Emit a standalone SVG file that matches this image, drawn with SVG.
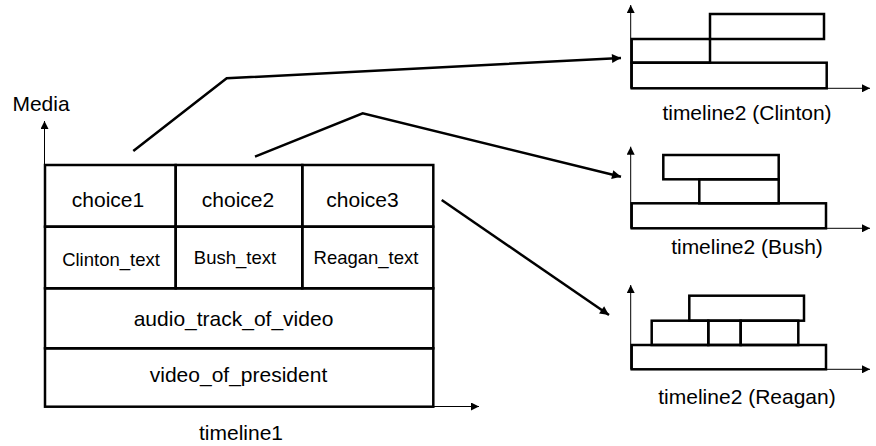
<svg xmlns="http://www.w3.org/2000/svg" width="876" height="446" viewBox="0 0 876 446">
<style>
  text { font-family: "Liberation Sans", Arial, sans-serif; fill: #000; }
  .lbl { font-size: 21px; text-anchor: middle; }
  .sub { font-size: 18.5px; text-anchor: middle; }
  .box { fill: none; stroke: #000; stroke-width: 2.5; }
  .axis { fill: none; stroke: #000; stroke-width: 1; }
  .conn { fill: none; stroke: #000; stroke-width: 2.5; }
</style>
<defs>
  <marker id="ah" viewBox="0 0 10 10" refX="10" refY="5" markerWidth="12" markerHeight="8" markerUnits="userSpaceOnUse" orient="auto">
    <path d="M0,0 L10,5 L0,10 Z" fill="#000"/>
  </marker>
  <marker id="ah2" viewBox="0 0 10 10" refX="10" refY="5" markerWidth="14" markerHeight="9" markerUnits="userSpaceOnUse" orient="auto">
    <path d="M0,0 L10,5 L0,10 Z" fill="#000"/>
  </marker>
</defs>

<g id="timeline1">
  <line class="axis" x1="44.5" y1="406.5" x2="44.5" y2="121" marker-end="url(#ah)"/>
  <line class="axis" x1="44.5" y1="406.5" x2="479" y2="406.5" marker-end="url(#ah)"/>
  <text x="41" y="111" class="lbl" style="text-anchor:middle">Media</text>
  <text x="241" y="440" class="lbl">timeline1</text>
</g>

<g id="choice1">
  <rect class="box" x="45" y="165" width="130.7" height="61.7"/>
  <text x="108" y="207" class="lbl">choice1</text>
</g>
<g id="choice2">
  <rect class="box" x="175.7" y="165" width="126.6" height="61.7"/>
  <text x="238" y="207" class="lbl">choice2</text>
</g>
<g id="choice3">
  <rect class="box" x="302.3" y="165" width="131" height="61.7"/>
  <text x="362.5" y="207" class="lbl">choice3</text>
</g>
<g id="clinton_text">
  <rect class="box" x="45" y="226.7" width="130.7" height="61.6"/>
  <text x="111" y="266" class="sub">Clinton_text</text>
</g>
<g id="bush_text">
  <rect class="box" x="175.7" y="226.7" width="126.6" height="61.6"/>
  <text x="235" y="264" class="sub">Bush_text</text>
</g>
<g id="reagan_text">
  <rect class="box" x="302.3" y="226.7" width="131" height="61.6"/>
  <text x="366" y="264" class="sub">Reagan_text</text>
</g>
<g id="audio_track_of_video">
  <rect class="box" x="45" y="288.3" width="388.3" height="60"/>
  <text x="233.5" y="326" class="lbl">audio_track_of_video</text>
</g>
<g id="video_of_president">
  <rect class="box" x="45" y="348.3" width="388.3" height="58.4"/>
  <text x="238.5" y="382" class="lbl">video_of_president</text>
</g>

<g id="timeline2_clinton">
  <line class="axis" x1="630.7" y1="88.3" x2="630.7" y2="5" marker-end="url(#ah)"/>
  <line class="axis" x1="630.7" y1="88.3" x2="870" y2="88.3" marker-end="url(#ah)"/>
  <rect class="box" x="631.7" y="62.7" width="195" height="25.6"/>
  <rect class="box" x="631.7" y="39" width="78.3" height="23.7"/>
  <rect class="box" x="710" y="14" width="114" height="25"/>
  <text x="747" y="120" class="lbl">timeline2 (Clinton)</text>
</g>

<g id="timeline2_bush">
  <line class="axis" x1="630.7" y1="228.3" x2="630.7" y2="146.7" marker-end="url(#ah)"/>
  <line class="axis" x1="630.7" y1="228.3" x2="870" y2="228.3" marker-end="url(#ah)"/>
  <rect class="box" x="631.7" y="203.3" width="194.3" height="25"/>
  <rect class="box" x="699.3" y="179.3" width="79.4" height="24"/>
  <rect class="box" x="663.3" y="155" width="115.4" height="24.3"/>
  <text x="747" y="254" class="lbl">timeline2 (Bush)</text>
</g>

<g id="timeline2_reagan">
  <line class="axis" x1="630.7" y1="369.3" x2="630.7" y2="285" marker-end="url(#ah)"/>
  <line class="axis" x1="630.7" y1="369.3" x2="870" y2="369.3" marker-end="url(#ah)"/>
  <rect class="box" x="631.7" y="345" width="194.3" height="24.3"/>
  <rect class="box" x="651.7" y="320.7" width="56.6" height="24.3"/>
  <rect class="box" x="708.3" y="320.7" width="32.4" height="24.3"/>
  <rect class="box" x="740.7" y="320.7" width="57.6" height="24.3"/>
  <rect class="box" x="689.3" y="295.7" width="114.7" height="25"/>
  <text x="747" y="404" class="lbl">timeline2 (Reagan)</text>
</g>

<g id="connectors">
  <polyline class="conn" points="133.3,151 226.7,78.3 621,58" marker-end="url(#ah2)"/>
  <polyline class="conn" points="255,156.7 362.7,113.3 621,176.7" marker-end="url(#ah2)"/>
  <polyline class="conn" points="441.7,200 609,315" marker-end="url(#ah2)"/>
</g>
</svg>
